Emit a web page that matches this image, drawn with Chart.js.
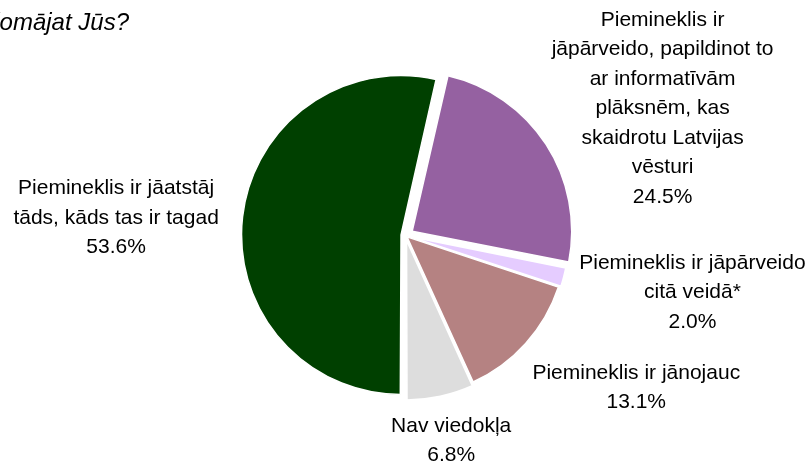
<!DOCTYPE html>
<html>
<head>
<meta charset="utf-8">
<script src="https://cdn.jsdelivr.net/npm/chart.js@4/dist/chart.umd.min.js"></script>
<style>
  html, body { margin: 0; padding: 0; background: #ffffff; }
  #wrap { position: relative; width: 807px; height: 466px; }
</style>
</head>
<body>
<div id="wrap"><canvas id="c" width="807" height="466"></canvas></div>
<script>
// ---- data ----
const titleText = "domājat Jūs?";
const categories = [
  "Piemineklis ir jāatstāj\ntāds, kāds tas ir tagad",
  "Piemineklis ir\njāpārveido, papildinot to\nar informatīvām\nplāksnēm, kas\nskaidrotu Latvijas\nvēsturi",
  "Piemineklis ir jāpārveido\ncitā veidā*",
  "Piemineklis ir jānojauc",
  "Nav viedokļa"
];
const values = [53.6, 24.5, 2.0, 13.1, 6.8];
const colors = ["#004000", "#9561A1", "#E5CCFF", "#B58282", "#DDDDDD"];

// ---- layout / style (not data) ----
const PIE_R = 159.5;
const sliceOffsets = [18, 32, 16, 8, 20];           // Chart.js offset units
const labelGap = 24;
const labelNudge = [[-5, 8], [10, 29], [0, -1], [17, 10], [-6, -3]];
const LABEL_FONT = "21px 'Liberation Sans', Arial, sans-serif";
const LINE_H = 29.5;

const radiusFix = {
  id: 'radiusFix',
  beforeDatasetsDraw(chart) {
    chart.getDatasetMeta(0).data.forEach((el) => {
      const circ = el.endAngle - el.startAngle;
      const fix = 1 - Math.sin(Math.min(Math.PI, circ));
      el.outerRadius = PIE_R - ((el.options.offset || 0) / 4) * fix;
    });
  }
};

const outsideLabels = {
  id: 'outsideLabels',
  afterDatasetsDraw(chart) {
    const ctx = chart.ctx;
    const meta = chart.getDatasetMeta(0);
    ctx.save();
    ctx.font = LABEL_FONT;
    ctx.fillStyle = "#000000";
    ctx.textAlign = "center";
    ctx.textBaseline = "middle";
    meta.data.forEach((el, i) => {
      const lines = categories[i].split("\n").concat([values[i].toFixed(1) + "%"]);
      const w = Math.max(...lines.map(l => ctx.measureText(l).width));
      const h = lines.length * LINE_H;
      const a = (el.startAngle + el.endAngle) / 2;
      const ca = Math.cos(a), sa = Math.sin(a);
      const r = PIE_R + labelGap;
      const cx = el.x + ca * r + ca * w / 2 + labelNudge[i][0];
      const cy = el.y + sa * r + sa * h / 2 + labelNudge[i][1];
      lines.forEach((l, k) => {
        ctx.fillText(l, cx, cy - h / 2 + LINE_H * (k + 0.5));
      });
    });
    ctx.restore();
  }
};

const cutTitle = {
  id: 'cutTitle',
  afterDraw(chart) {
    const ctx = chart.ctx;
    ctx.save();
    ctx.font = "italic 24px 'Liberation Sans', Arial, sans-serif";
    ctx.fillStyle = "#000000";
    ctx.textAlign = "right";
    ctx.textBaseline = "alphabetic";
    ctx.fillText(titleText, 129, 30);
    ctx.restore();
  }
};

new Chart(document.getElementById('c'), {
  type: 'pie',
  data: {
    labels: categories,
    datasets: [{
      data: values,
      backgroundColor: colors,
      borderColor: "#ffffff",
      borderWidth: 1.5,
      offset: sliceOffsets,
      hoverOffset: 0
    }]
  },
  options: {
    responsive: false,
    animation: false,
    rotation: 180,
    radius: PIE_R,
    layout: { padding: { left: 4, top: 5 } },
    plugins: {
      legend: { display: false },
      tooltip: { enabled: false },
      title: { display: false }
    },
    events: []
  },
  plugins: [radiusFix, outsideLabels, cutTitle]
});
</script>
</body>
</html>
